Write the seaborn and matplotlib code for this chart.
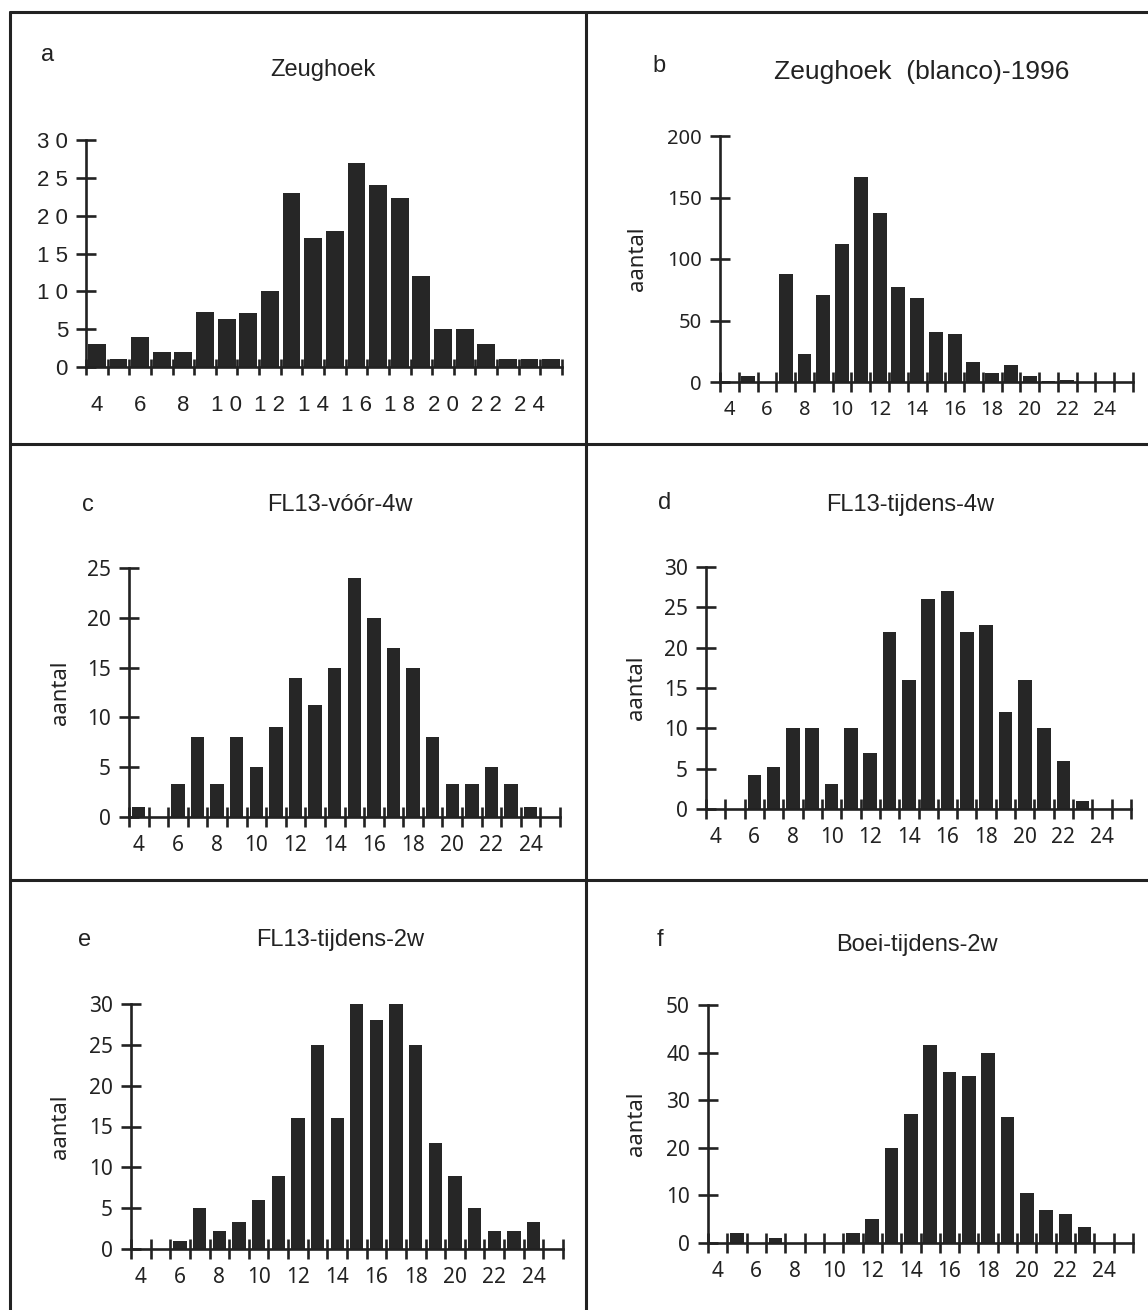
import numpy as np
import matplotlib
matplotlib.use("Agg")
import matplotlib.pyplot as plt
import seaborn as sns
import pandas as pd
from matplotlib.lines import Line2D

sns.set_style("ticks")
plt.rcParams['font.family'] = ['Noto Sans', 'DejaVu Sans']

# ---------------- data ----------------
lengths = list(range(4, 26))
x_label_values = list(range(4, 25, 2))

a_values = [3, 1, 4, 2, 2, 7.3, 6.3, 7.2, 10, 23, 17, 18, 27, 24, 22.3, 12, 5, 5, 3, 1, 1, 1]
b_values = [0, 5, 0, 88, 23, 71, 112, 167, 137, 77, 68, 41, 39, 16, 7, 14, 5, 1, 2, 0, 0, 0]
c_values = [1, 0, 3.3, 8, 3.3, 8, 5, 9, 14, 11.2, 15, 24, 20, 17, 15, 8, 3.3, 3.3, 5, 3.3, 1, 0]
d_values = [0, 0, 4.2, 5.2, 10, 10, 3.1, 10, 7, 22, 16, 26, 27, 22, 22.8, 12, 16, 10, 6, 1, 0, 0]
e_values = [0, 0, 1, 5, 2.2, 3.3, 6, 9, 16, 25, 16, 30, 28, 30, 25, 13, 9, 5, 2.2, 2.2, 3.3, 0]
f_values = [0, 2, 0, 1, 0, 0, 0, 2, 5, 20, 27, 41.5, 36, 35, 40, 26.5, 10.5, 7, 6, 3.3, 0, 0]

titles = ["Zeughoek", "Zeughoek  (blanco)-1996", "FL13-vóór-4w",
          "FL13-tijdens-4w", "FL13-tijdens-2w", "Boei-tijdens-2w"]
letters = ["a", "b", "c", "d", "e", "f"]
y_maxes = [30, 200, 25, 30, 30, 50]
y_steps = [5, 50, 5, 5, 5, 10]

# ---------------- layout (pixels) ----------------
W, H = 1148, 1310
rects = [  # left, right, top, bottom
    (86, 562, 140, 367),
    (720, 1133, 136, 382),
    (129, 560, 568, 817),
    (706, 1131, 567, 809),
    (131, 563, 1004, 1249),
    (708, 1133, 1005, 1243),
]
bar_widths = [0.82, 0.74, 0.68, 0.7, 0.68, 0.7]
title_pos = [(323, 70), (922, 72), (340, 505), (910, 505), (340, 940), (917, 945)]
title_size = [17, 19, 17, 17, 17, 17]
letter_pos = [(48, 55), (659, 66), (88, 505), (665, 503), (85, 940), (660, 940)]
ylabel_x = [None, -0.175, -0.135, -0.14, -0.138, -0.143]

ink = "#222222"
bar_color = "#262626"
helv = ['Liberation Sans', 'DejaVu Sans']
frut = ['Noto Sans', 'DejaVu Sans']

fig = plt.figure(figsize=(W / 100, H / 100), dpi=100)
fig.patch.set_facecolor("white")

all_values = [a_values, b_values, c_values, d_values, e_values, f_values]

for i, vals in enumerate(all_values):
    L, R, T, B = rects[i]
    ax = fig.add_axes([L / W, 1 - B / H, (R - L) / W, (B - T) / H])
    df = pd.DataFrame({"lengte": lengths, "aantal": vals})
    sns.barplot(data=df, x="lengte", y="aantal", native_scale=True,
                width=bar_widths[i], color=bar_color, saturation=1,
                errorbar=None, linewidth=0, ax=ax)
    ax.set_xlim(3.5, 25.5)
    ax.set_ylim(0, y_maxes[i])
    sns.despine(ax=ax)
    for sp in ("left", "bottom"):
        ax.spines[sp].set_linewidth(1.9)
        ax.spines[sp].set_color(ink)

    yt = list(range(0, y_maxes[i] + 1, y_steps[i]))
    ax.set_xticks(x_label_values)
    ax.set_xticks(np.arange(3.5, 25.6, 1.0), minor=True)
    ax.set_yticks(yt)
    if i == 0:
        xl = [" ".join(str(v)) for v in x_label_values]
        yl = [" ".join(str(v)) for v in yt]
        fam, fs = helv, 16
        xpad, tlen = 15, 11
    else:
        xl = [str(v) for v in x_label_values]
        yl = [str(v) for v in yt]
        fam, fs = frut, (14.5 if i == 1 else 15)
        xpad, tlen = 6, 14
    ax.set_xticklabels(xl, fontsize=fs, family=fam, color=ink)
    ax.set_yticklabels(yl, fontsize=fs, family=fam, color=ink)
    ax.tick_params(axis="x", which="major", bottom=True, length=0,
                   pad=xpad + tlen / 2)
    ax.tick_params(axis="x", which="minor", bottom=True, length=tlen, width=1.9,
                   direction="inout", color=ink)
    ax.tick_params(axis="y", which="major", left=True, length=14, width=1.9,
                   direction="inout", color=ink, pad=6)
    ax.tick_params(axis="y", which="minor", left=False)
    ax.set_xlabel("")
    if i == 0:
        ax.set_ylabel("")
    else:
        ax.set_ylabel("aantal", fontsize=16, family=frut, color=ink)
        ax.yaxis.set_label_coords(ylabel_x[i], 0.5)

    tx, ty = title_pos[i]
    fig.text(tx / W, 1 - ty / H, titles[i], ha="center", va="center",
             fontsize=title_size[i], family=helv, color=ink)
    lx, ly = letter_pos[i]
    fig.text(lx / W, 1 - ly / H, letters[i], ha="center", va="center",
             fontsize=17, family=helv, color=ink)

# panel frame lines
def fline(x0, y0, x1, y1):
    fig.add_artist(Line2D([x0 / W, x1 / W], [1 - y0 / H, 1 - y1 / H],
                          transform=fig.transFigure, color=ink, linewidth=2.2))

fline(10, 12, 10, H)        # left border
fline(10, 12, W, 12)        # top border
fline(586, 12, 586, H)      # vertical divider
fline(10, 444, W, 444)      # horizontal divider 1
fline(10, 880, W, 880)      # horizontal divider 2

fig.savefig("out.png", dpi=100, facecolor="white")
